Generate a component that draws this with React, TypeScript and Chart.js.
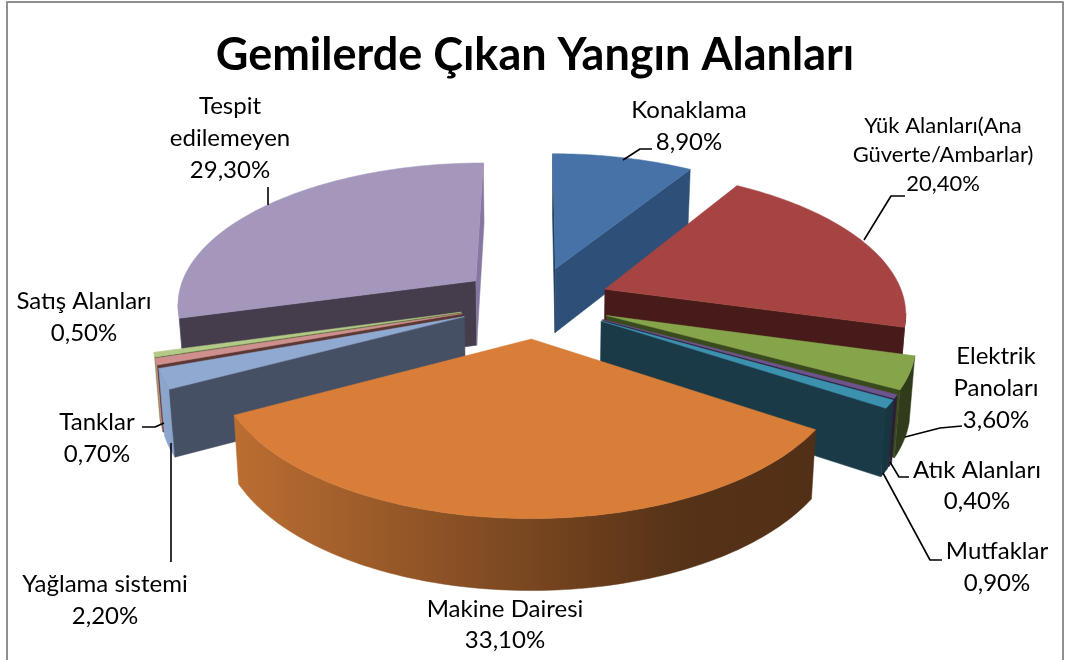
import React, { useEffect, useRef } from "react";
import { Chart, registerables } from "chart.js";

Chart.register(...registerables);

const TITLE = "Gemilerde Çıkan Yangın Alanları";
const categories = ["Konaklama", "Yük Alanları(Ana Güverte/Ambarlar)", "Elektrik Panoları", "Atık Alanları", "Mutfaklar", "Makine Dairesi", "Yağlama sistemi", "Tanklar", "Satış Alanları", "Tespit edilemeyen"];
const values = [8.9, 20.4, 3.6, 0.4, 0.9, 33.1, 2.2, 0.7, 0.5, 29.3];
const topColors = ["#4672A8", "#A54442", "#86A44A", "#6E548D", "#3C92AE", "#D87E39", "#8FA9D1", "#CF8F8E", "#B3C986", "#A597BC"];
const startFaceColors = ["#1F3A5A", "#471B1A", "#3A4A1F", "#2D2340", "#1A3A47", "#54310F", "#465064", "#5C3835", "#5A6A3A", "#453D4B"];
const endFaceColors = ["#2E5078", "#471B1A", "#3A4A1F", "#2D2340", "#1A3A47", "#54310F", "#465064", "#5C3835", "#5A6A3A", "#8577A0"];
// painter's order: back wedges first
const drawOrder = [0, 9, 1, 8, 7, 6, 2, 3, 4, 5];

// label text lines (the value line is added from `values`), centre x, first line y, font size, line gap
const labelLines = [["Konaklama"], ["Yük Alanları(Ana", "Güverte/Ambarlar)"], ["Elektrik", "Panoları"], ["Atık Alanları"], ["Mutfaklar"], ["Makine Dairesi"], ["Yağlama sistemi"], ["Tanklar"], ["Satış Alanları"], ["Tespit", "edilemeyen"]];
const labelBoxes = [
  { x: 689, y: 110, size: 24, gap: 32 },
  { x: 943, y: 126, size: 22, gap: 29 },
  { x: 996, y: 356, size: 24, gap: 32 },
  { x: 977, y: 470, size: 24, gap: 31 },
  { x: 997, y: 551, size: 24, gap: 32 },
  { x: 505, y: 609, size: 24, gap: 31 },
  { x: 105, y: 584, size: 24, gap: 32 },
  { x: 97, y: 422, size: 24, gap: 32 },
  { x: 84, y: 301, size: 24, gap: 32 },
  { x: 230, y: 106, size: 24, gap: 32 },
];
const leaderLines = [
  [[623, 160], [640, 149], [652, 149]],
  [[864, 240], [891, 196], [905, 196]],
  [[905, 437], [940, 428], [962, 426]],
  [[890, 462], [899, 477], [909, 477]],
  [[883, 473], [930, 560], [942, 560]],
  [[171, 443], [171, 562]],
  [[142, 427], [155, 427], [164, 423]],
  [[268, 187], [268, 205]],
];

const EXPLODE = 76;
const TILT = 0.47;
const PERSPECTIVE = 0.00049;
const DEPTH = 65;
const FONT = "Lato";

function shade(hex: string, f: number) {
  const n = parseInt(hex.slice(1), 16);
  const c = [(n >> 16) & 255, (n >> 8) & 255, n & 255].map((v) => Math.round(v * f));
  return `rgb(${c[0]},${c[1]},${c[2]})`;
}

const pie3d = {
  id: "pie3d",
  beforeDatasetDraw(chart: any) {
    const ctx = chart.ctx;
    const arcs = chart.getDatasetMeta(0).data;
    const top = (gx: number, gy: number, cx: number, cy: number) => {
      const w = 1 / (1 - PERSPECTIVE * gy);
      return [cx + gx * w, cy + TILT * gy * w];
    };
    const bottom = (gx: number, gy: number, cx: number, cy: number) => {
      const w = 1 / (1 - PERSPECTIVE * gy);
      return [cx + gx * w * 0.985, cy + TILT * gy * w + DEPTH * Math.sqrt(w)];
    };
    const fillPoly = (pts: number[][], style: any) => {
      ctx.beginPath();
      pts.forEach((p, i) => (i ? ctx.lineTo(p[0], p[1]) : ctx.moveTo(p[0], p[1])));
      ctx.closePath();
      ctx.fillStyle = style;
      ctx.fill();
      ctx.strokeStyle = style;
      ctx.lineWidth = 0.5;
      ctx.stroke();
    };
    const area = (p: number[][]) => {
      let s = 0;
      p.forEach((a, i) => {
        const b = p[(i + 1) % p.length];
        s += a[0] * b[1] - b[0] * a[1];
      });
      return s;
    };
    drawOrder.forEach((i) => {
      const arc = arcs[i];
      const { x: cx, y: cy, startAngle: a0, endAngle: a1, outerRadius: R } = arc;
      const mid = (a0 + a1) / 2;
      const ax = EXPLODE * Math.cos(mid);
      const ay = EXPLODE * Math.sin(mid);
      const n = Math.max(2, Math.ceil((a1 - a0) / 0.02));
      const rimTop: number[][] = [];
      const rimBot: number[][] = [];
      for (let k = 0; k <= n; k++) {
        const t = a0 + ((a1 - a0) * k) / n;
        const gx = ax + R * Math.cos(t);
        const gy = ay + R * Math.sin(t);
        rimTop.push(top(gx, gy, cx, cy));
        rimBot.push(bottom(gx, gy, cx, cy));
      }
      const aTop = top(ax, ay, cx, cy);
      const aBot = bottom(ax, ay, cx, cy);
      const startFace = [aTop, rimTop[0], rimBot[0], aBot];
      const endFace = [aTop, rimTop[n], rimBot[n], aBot];
      const g = ctx.createLinearGradient(150, 0, 920, 0);
      g.addColorStop(0, shade(topColors[i], 1));
      g.addColorStop((232 - 150) / 770, shade(topColors[i], 0.87));
      g.addColorStop((680 - 150) / 770, shade(topColors[i], 0.4));
      g.addColorStop(1, shade(topColors[i], 0.36));
      // only the rim segments that face the viewer (screen x falling along the sweep)
      const frontTop: number[][] = [];
      const frontBot: number[][] = [];
      for (let k = 0; k < n; k++) {
        if (rimTop[k + 1][0] < rimTop[k][0]) {
          if (!frontTop.length) {
            frontTop.push(rimTop[k]);
            frontBot.push(rimBot[k]);
          }
          frontTop.push(rimTop[k + 1]);
          frontBot.push(rimBot[k + 1]);
        }
      }
      if (frontTop.length) fillPoly([...frontTop, ...frontBot.reverse()], g);
      if (area(startFace) < 0) fillPoly(startFace, startFaceColors[i]);
      if (area(endFace) > 0) fillPoly(endFace, endFaceColors[i]);
      fillPoly([aTop, ...rimTop], topColors[i]);
    });
    return false;
  },
  afterDraw(chart: any) {
    const ctx = chart.ctx;
    ctx.save();
    ctx.strokeStyle = "#000";
    ctx.lineWidth = 1.6;
    ctx.lineJoin = "round";
    leaderLines.forEach((line) => {
      ctx.beginPath();
      line.forEach((p, i) => (i ? ctx.lineTo(p[0], p[1]) : ctx.moveTo(p[0], p[1])));
      ctx.stroke();
    });
    ctx.fillStyle = "#000";
    ctx.textAlign = "center";
    ctx.textBaseline = "middle";
    labelLines.forEach((lines, i) => {
      const b = labelBoxes[i];
      ctx.font = `${b.size}px ${FONT}`;
      const all = [...lines, `${values[i].toFixed(2).replace(".", ",")}%`];
      all.forEach((t, j) => ctx.fillText(t, b.x, b.y + j * b.gap));
    });
    ctx.strokeStyle = "#8F8F8F";
    ctx.lineWidth = 2;
    ctx.beginPath();
    ctx.moveTo(7, 660);
    ctx.lineTo(7, 2);
    ctx.lineTo(1063, 2);
    ctx.lineTo(1063, 660);
    ctx.stroke();
    ctx.restore();
  },
};

export default function App() {
  const ref = useRef<HTMLCanvasElement>(null);
  useEffect(() => {
    const chart = new Chart(ref.current!, {
      type: "pie",
      data: {
        labels: categories,
        datasets: [{ data: values, backgroundColor: topColors, borderWidth: 0 }],
      },
      options: {
        animation: false,
        responsive: false,
        events: [],
        radius: 300,
        layout: { padding: { left: 4, bottom: 138 } },
        plugins: {
          legend: { display: false },
          tooltip: { enabled: false },
          title: {
            display: true,
            text: TITLE,
            color: "#000",
            font: { family: FONT, size: 45, weight: "bold", lineHeight: 1.2 },
            padding: { top: 28, bottom: 0 },
          },
        },
      } as any,
      plugins: [pie3d],
    });
    return () => chart.destroy();
  }, []);
  return (
    <>
      <style>{`html,body{margin:0;padding:0;background:#fff}`}</style>
      <canvas ref={ref} width={1066} height={660} style={{ display: "block", width: 1066, height: 660 }} />
    </>
  );
}
